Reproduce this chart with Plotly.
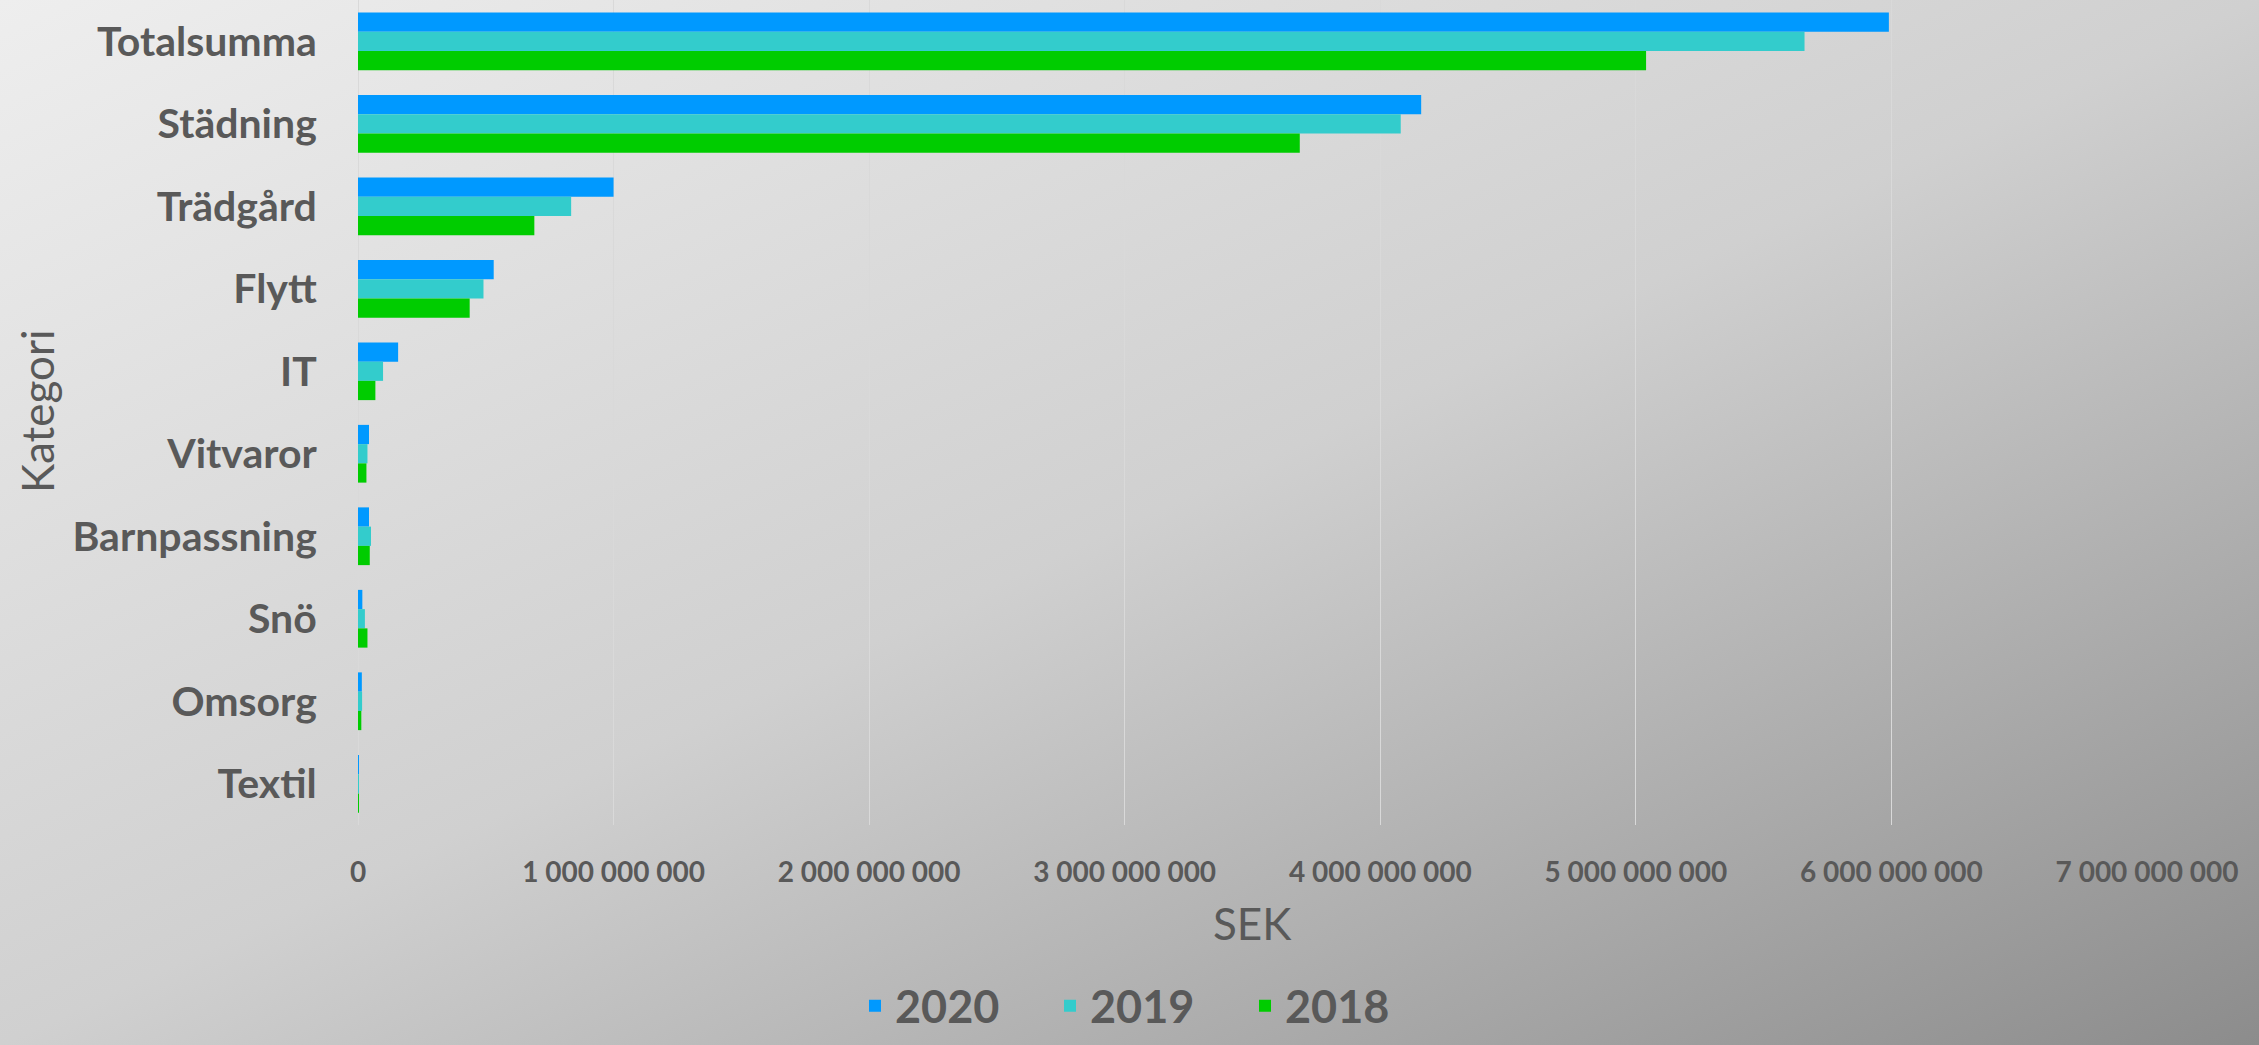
import base64
import plotly.graph_objects as go

# ---- data ----
categories = ["Totalsumma", "Städning", "Trädgård", "Flytt", "IT", "Vitvaror",
              "Barnpassning", "Snö", "Omsorg", "Textil"]
years = ["2020", "2019", "2018"]
values_2020 = [5.99e9, 4.16e9, 1.00e9, 0.531e9, 0.157e9, 0.043e9, 0.043e9, 0.017e9, 0.015e9, 0.002e9]
values_2019 = [5.66e9, 4.08e9, 0.834e9, 0.491e9, 0.098e9, 0.037e9, 0.051e9, 0.027e9, 0.016e9, 0.002e9]
values_2018 = [5.04e9, 3.685e9, 0.69e9, 0.437e9, 0.068e9, 0.033e9, 0.046e9, 0.037e9, 0.013e9, 0.002e9]
x_ticks = [0, 1e9, 2e9, 3e9, 4e9, 5e9, 6e9, 7e9]

series = [values_2020, values_2019, values_2018]
colors = ["#0099FF", "#33CCCC", "#00CC00"]

# ---- layout geometry ----
W, H = 2259, 1045
ML, MR, MT, MB = 358, 112, 0, 220
pw = W - ML - MR
ph = H - MT - MB

TXT = "#595959"
FONT = "Lato, Carlito, Calibri, sans-serif"

fig = go.Figure()
for name, vals, col in zip(years, series, colors):
    fig.add_trace(go.Bar(
        y=categories, x=vals, name=name, orientation="h",
        marker=dict(color=col, line=dict(width=0)),
    ))

# diagonal gradient background (SVG)
svg = (
    '<svg xmlns="http://www.w3.org/2000/svg" width="%d" height="%d" preserveAspectRatio="none" viewBox="0 0 %d %d">'
    '<defs><linearGradient id="g" x1="0" y1="0" x2="1" y2="1">'
    '<stop offset="0" stop-color="#eeeeee"/>'
    '<stop offset="0.5" stop-color="#d0d0d0"/>'
    '<stop offset="1" stop-color="#8c8c8c"/>'
    '</linearGradient></defs>'
    '<rect x="0" y="0" width="%d" height="%d" fill="url(#g)"/></svg>'
) % (W, H, W, H, W, H)
src = "data:image/svg+xml;base64," + base64.b64encode(svg.encode()).decode()

fig.update_layout(
    width=W, height=H,
    margin=dict(l=ML, r=MR, t=MT, b=MB, pad=0),
    paper_bgcolor="#c8c8c8",
    plot_bgcolor="rgba(0,0,0,0)",
    separators=", ",
    barmode="group", bargap=0.30, bargroupgap=0,
    font=dict(family=FONT, color=TXT),
    images=[dict(
        source=src, xref="paper", yref="paper",
        x=-ML / pw, y=(ph + MT) / ph,
        sizex=W / pw, sizey=H / ph,
        xanchor="left", yanchor="top", sizing="stretch", layer="below",
    )],
    xaxis=dict(
        range=[0, 7e9], tickvals=x_ticks, tickformat=",d",
        showgrid=True, gridcolor="#d9d9d9", gridwidth=1.3,
        zeroline=True, zerolinecolor="#d9d9d9", zerolinewidth=1.3,
        showline=False, ticks="outside", ticklen=22, tickcolor="rgba(0,0,0,0)",
        tickfont=dict(family=FONT, size=28, color=TXT, weight="bold"),
    ),
    yaxis=dict(
        categoryorder="array", categoryarray=categories, autorange="reversed",
        showgrid=False, zeroline=False, showline=False,
        ticks="outside", ticklen=32, tickcolor="rgba(0,0,0,0)",
        tickfont=dict(family=FONT, size=41, color=TXT, weight="bold"),
    ),
    legend=dict(
        orientation="h", xref="container", yref="container",
        x=(W / 2 + 18) / W, xanchor="center",
        y=1 - 1042 / H, yanchor="bottom",
        font=dict(family=FONT, size=45, color=TXT, weight="bold"),
        bgcolor="rgba(0,0,0,0)", itemwidth=30,
        entrywidth=150, entrywidthmode="pixels",
    ),
    annotations=[
        dict(text="SEK", xref="paper", yref="paper",
             x=(1252 - ML) / pw, y=(MT + ph - 923) / ph,
             xanchor="center", yanchor="middle", showarrow=False,
             font=dict(family=FONT, size=44, color=TXT)),
        dict(text="Kategori", xref="paper", yref="paper",
             x=(37 - ML) / pw, y=(MT + ph - 411) / ph, textangle=-90,
             xanchor="center", yanchor="middle", showarrow=False,
             font=dict(family=FONT, size=44, color=TXT)),
    ],
)

fig.write_html(
    "out.html",
    config={"displayModeBar": False},
    post_script="document.body.style.margin='0';document.body.style.overflow='hidden';",
)
